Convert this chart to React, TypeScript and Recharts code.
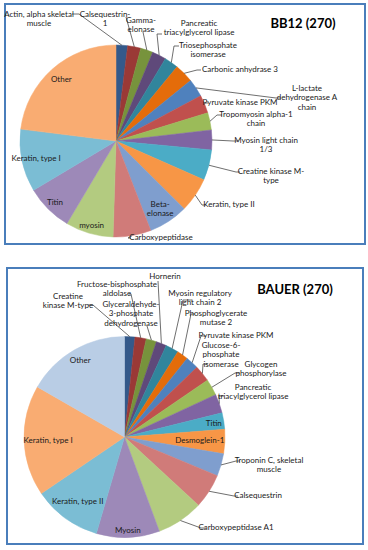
import { PieChart, Pie, Cell } from "recharts";

// BB12 (270) – slices clockwise from 12 o'clock
const bb12Proteins = [
  "Actin, alpha skeletal muscle",
  "Calsequestrin-1",
  "Gamma-elonase",
  "Pancreatic triacylglycerol lipase",
  "Triosephosphate isomerase",
  "Carbonic anhydrase 3",
  "L-lactate dehydrogenase A chain",
  "Pyruvate kinase PKM",
  "Tropomyosin alpha-1 chain",
  "Myosin light chain 1/3",
  "Creatine kinase M-type",
  "Keratin, type II",
  "Beta-elonase",
  "Carboxypeptidase",
  "myosin",
  "Titin",
  "Keratin, type I",
  "Other",
];
const bb12Values = [7, 8, 7.5, 8.5, 8.5, 11.5, 11, 11, 10.5, 12, 18.5, 21, 24, 23, 29, 28.5, 38, 83];

// BAUER (270)
const bauerProteins = [
  "Creatine kinase M-type",
  "Fructose-bisphosphate aldolase",
  "Glyceraldehyde-3-phosphate dehydrogenase",
  "Hornerin",
  "Myosin regulatory light chain 2",
  "Phosphoglycerate mutase 2",
  "Pyruvate kinase PKM",
  "Glucose-6-phosphate isomerase",
  "Glycogen phosphorylase",
  "Pancreatic triacylglycerol lipase",
  "Titin",
  "Desmoglein-1",
  "Troponin C, skeletal muscle",
  "Calsequestrin",
  "Carboxypeptidase A1",
  "Myosin",
  "Keratin, type II",
  "Keratin, type I",
  "Other",
];
const bauerValues = [6, 6.5, 6, 6, 7.5, 6.5, 7.5, 9.5, 9.5, 11, 9.5, 14, 13, 20, 27, 36.5, 39.5, 64, 60];

const sliceColors = [
  "#34598A", "#9A3936", "#77933C", "#5F497A", "#31859C", "#E46C0A",
  "#4F81BD", "#C0504D", "#9BBB59", "#8064A2", "#4BACC6", "#F79646",
  "#7F9ECE", "#D07B79", "#B3CB80", "#9D89B8", "#7BBDD4", "#F9AC72",
  "#B9CDE5",
];

type LabelSpec =
  | { lines: string[]; x: number; y: number; ax: number; ay: number; ex: number }
  | { lines: string[]; r: number };

const bb12Labels: LabelSpec[] = [
  { lines: ["Actin, alpha skeletal", "muscle"], x: 39, y: 14, ax: 72, ay: 14, ex: 79 },
  { lines: ["Calsequestrin-", "1"], x: 105, y: 14, ax: 126, ay: 17, ex: 126 },
  { lines: ["Gamma-", "elonase"], x: 141, y: 20, ax: 143, ay: 32, ex: 143 },
  { lines: ["Pancreatic", "triacylglycerol lipase"], x: 199, y: 23, ax: 162, ay: 34, ex: 157 },
  { lines: ["Triosephosphate", "isomerase"], x: 208, y: 45, ax: 179, ay: 46, ex: 174 },
  { lines: ["Carbonic anhydrase 3"], x: 240, y: 69, ax: 201, ay: 70, ex: 197 },
  { lines: ["L-lactate", "dehydrogenase A", "chain"], x: 307, y: 88, ax: 281, ay: 98, ex: 276 },
  { lines: ["Pyruvate kinase PKM"], x: 240, y: 102, ax: 208, ay: 103, ex: 205 },
  { lines: ["Tropomyosin alpha-1", "chain"], x: 256, y: 114, ax: 222, ay: 115, ex: 217 },
  { lines: ["Myosin light chain", "1/3"], x: 266, y: 140, ax: 238, ay: 141, ex: 233 },
  { lines: ["Creatine kinase M-", "type"], x: 271, y: 171, ax: 240, ay: 172, ex: 236 },
  { lines: ["Keratin, type II"], x: 229, y: 204, ax: 206, ay: 205, ex: 202 },
  { lines: ["Beta-", "elonase"], r: 0.84 },
  { lines: ["Carboxypeptidase"], x: 161, y: 237, ax: 131, ay: 238, ex: 128 },
  { lines: ["myosin"], r: 0.91 },
  { lines: ["Titin"], r: 0.9 },
  { lines: ["Keratin, type I"], r: 0.85 },
  { lines: ["Other"], r: 0.86 },
];

const bauerLabels: LabelSpec[] = [
  { lines: ["Creatine", "kinase M-type"], x: 68, y: 296, ax: 88, ay: 305, ex: 93 },
  { lines: ["Fructose-bisphosphate", "aldolase"], x: 117, y: 284, ax: 129, ay: 294, ex: 131 },
  { lines: ["Glyceraldehyde-", "3-phosphate", "dehydrogenase"], x: 131, y: 304, ax: 147, ay: 326, ex: 147 },
  { lines: ["Hornerin"], x: 165, y: 276, ax: 158, ay: 281, ex: 158 },
  { lines: ["Myosin regulatory", "light chain 2"], x: 200, y: 293, ax: 192, ay: 300, ex: 183 },
  { lines: ["Phosphoglycerate", "mutase 2"], x: 216, y: 313, ax: 195, ay: 314, ex: 191 },
  { lines: ["Pyruvate kinase PKM"], x: 236, y: 335, ax: 206, ay: 336, ex: 201 },
  { lines: ["Glucose-6-", "phosphate", "isomerase"], x: 221, y: 345, ax: 208, ay: 364, ex: 203 },
  { lines: ["Glycogen", "phosphorylase"], x: 261, y: 364, ax: 240, ay: 373, ex: 235 },
  { lines: ["Pancreatic", "triacylglycerol lipase"], x: 253, y: 387, ax: 224, ay: 396, ex: 219 },
  { lines: ["Titin"], r: 0.9 },
  { lines: ["Desmoglein-1"], r: 0.75 },
  { lines: ["Troponin C, skeletal", "muscle"], x: 269, y: 460, ax: 240, ay: 461, ex: 236 },
  { lines: ["Calsequestrin"], x: 258, y: 495, ax: 238, ay: 496, ex: 234 },
  { lines: ["Carboxypeptidase A1"], x: 236, y: 527, ax: 206, ay: 528, ex: 201 },
  { lines: ["Myosin"], r: 0.93 },
  { lines: ["Keratin, type II"], r: 0.79 },
  { lines: ["Keratin, type I"], r: 0.76 },
  { lines: ["Other"], r: 0.88 },
];

const FONT = "Lato, 'Open Sans', sans-serif";
const LINE_H = 9.3;
const RAD = Math.PI / 180;

const makeLabel = (layout: LabelSpec[]) => (props: any) => {
  const { cx, cy, midAngle, outerRadius, index } = props;
  const spec = layout[index];
  if (!spec) return null;
  const cos = Math.cos(-midAngle * RAD);
  const sin = Math.sin(-midAngle * RAD);

  const textLines = (x: number, y0: number) =>
    spec.lines.map((ln, i) => (
      <text
        key={i}
        x={x}
        y={y0 + i * LINE_H}
        textAnchor="middle"
        dominantBaseline="central"
        fontFamily={FONT}
        fontSize={8}
        fill="#1a1a1a"
      >
        {ln}
      </text>
    ));

  if ("r" in spec) {
    const x = cx + outerRadius * spec.r * cos;
    const y = cy + outerRadius * spec.r * sin;
    const y0 = y - ((spec.lines.length - 1) * LINE_H) / 2;
    return <g>{textLines(x, y0)}</g>;
  }

  const px = cx + outerRadius * cos;
  const py = cy + outerRadius * sin;
  return (
    <g>
      <polyline
        points={`${px},${py} ${spec.ex},${spec.ay} ${spec.ax},${spec.ay}`}
        fill="none"
        stroke="#4a4a4a"
        strokeWidth={0.8}
      />
      {textLines(spec.x, spec.y)}
    </g>
  );
};

const bb12Data = bb12Proteins.map((name, i) => ({ name, value: bb12Values[i] }));
const bauerData = bauerProteins.map((name, i) => ({ name, value: bauerValues[i] }));

const boxStyle = (left: number, top: number, width: number, height: number): React.CSSProperties => ({
  position: "absolute",
  left,
  top,
  width,
  height,
  boxSizing: "border-box",
  border: "2px solid #4A7EBB",
  background: "#fff",
});

const App = () => {
  return (
    <div style={{ position: "absolute", left: 0, top: 0, width: 368, height: 550, background: "#fff" }}>
      <div style={boxStyle(4, 3, 362, 242)} />
      <div style={boxStyle(6, 267, 358, 278)} />

      <div style={{ position: "absolute", left: 0, top: 0 }}>
        <PieChart width={368} height={550}>
          <Pie
            data={bb12Data}
            dataKey="value"
            nameKey="name"
            cx={111}
            cy={136}
            outerRadius={96}
            startAngle={90}
            endAngle={-270}
            isAnimationActive={false}
            labelLine={false}
            label={makeLabel(bb12Labels)}
          >
            {bb12Data.map((_, i) => (
              <Cell key={i} fill={sliceColors[i]} stroke={sliceColors[i]} strokeWidth={0.5} />
            ))}
          </Pie>
          <Pie
            data={bauerData}
            dataKey="value"
            nameKey="name"
            cx={119.5}
            cy={432}
            outerRadius={100.5}
            startAngle={90}
            endAngle={-270}
            isAnimationActive={false}
            labelLine={false}
            label={makeLabel(bauerLabels)}
          >
            {bauerData.map((_, i) => (
              <Cell key={i} fill={sliceColors[i]} stroke={sliceColors[i]} strokeWidth={0.5} />
            ))}
          </Pie>
          <text x={303} y={23} textAnchor="middle" dominantBaseline="central" fontFamily={FONT} fontWeight={700} fontSize={13} fill="#000">
            BB12 (270)
          </text>
          <text x={295} y={289} textAnchor="middle" dominantBaseline="central" fontFamily={FONT} fontWeight={700} fontSize={13} fill="#000">
            BAUER (270)
          </text>
        </PieChart>
      </div>
    </div>
  );
};

export default App;
